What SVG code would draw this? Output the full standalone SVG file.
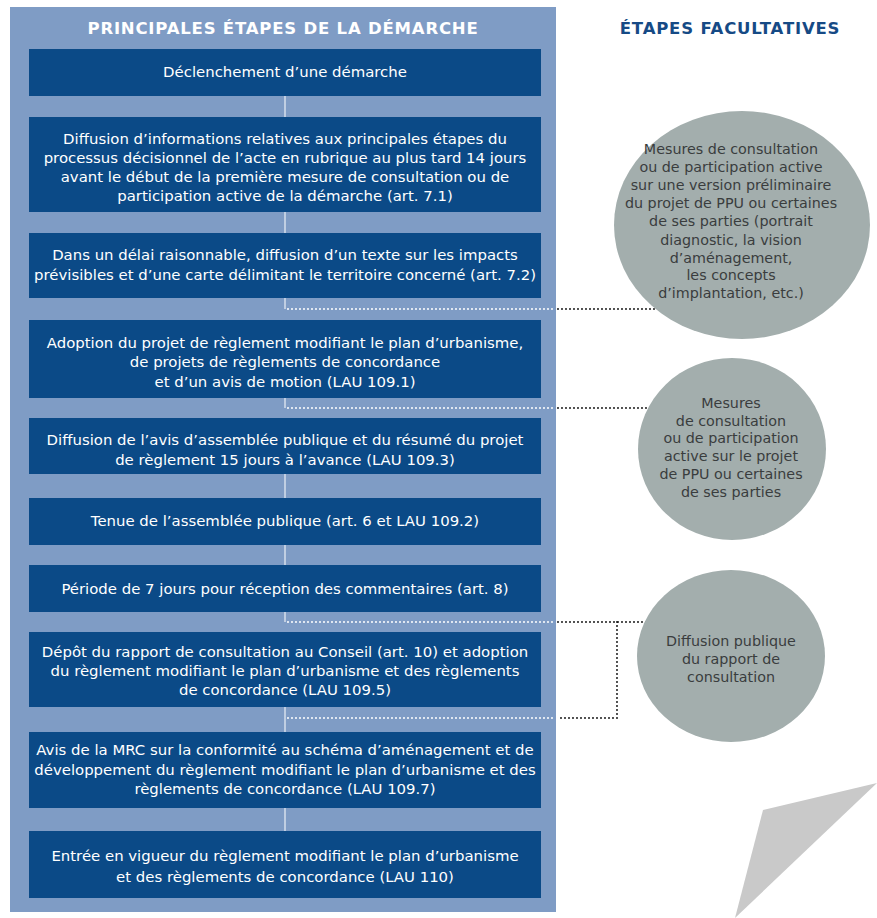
<svg xmlns="http://www.w3.org/2000/svg" width="877" height="918" viewBox="0 0 877 918">
<style>
.panel{fill:#7f9cc5}
.box{fill:#0b4a87}
.bt{font-family:"DejaVu Sans","Liberation Sans",Arial,sans-serif;font-size:14.9px;fill:#ffffff;text-anchor:middle}
.ct{font-family:"DejaVu Sans","Liberation Sans",Arial,sans-serif;font-size:14.3px;fill:#3a3d3e;text-anchor:middle}
.circ{fill:#a3aead}
.hd{font-family:"DejaVu Sans","Liberation Sans",Arial,sans-serif;font-size:16.5px;font-weight:bold;letter-spacing:0.8px;text-anchor:middle}
.vl{stroke:#ffffff;stroke-width:1.2;fill:none;opacity:0.85}
.dw{stroke:#ffffff;stroke-width:2;stroke-dasharray:0 4;stroke-linecap:round;fill:none}
.db{stroke:#1a1a1a;stroke-width:2;stroke-dasharray:0 4;stroke-linecap:round;fill:none}
</style>
<rect x="0" y="0" width="877" height="918" fill="#ffffff"/>
<rect class="panel" x="10" y="7" width="546" height="905"/>
<text class="hd" x="283" y="34" fill="#ffffff">PRINCIPALES ÉTAPES DE LA DÉMARCHE</text>
<text class="hd" x="730" y="34" fill="#164a85">ÉTAPES FACULTATIVES</text>

<g id="connectors">
<line class="vl" x1="285" y1="96" x2="285" y2="117"/>
<line class="vl" x1="285" y1="212" x2="285" y2="233"/>
<line class="vl" x1="285" y1="298" x2="285" y2="309"/>
<line class="vl" x1="285" y1="398" x2="285" y2="408"/>
<line class="vl" x1="285" y1="474" x2="285" y2="498"/>
<line class="vl" x1="285" y1="545" x2="285" y2="565"/>
<line class="vl" x1="285" y1="612" x2="285" y2="622"/>
<line class="vl" x1="285" y1="707" x2="285" y2="732"/>
<line class="vl" x1="285" y1="808" x2="285" y2="831"/>
<line class="dw" x1="288" y1="309" x2="554" y2="309"/>
<line class="db" x1="558" y1="309" x2="662" y2="309"/>
<line class="dw" x1="288" y1="408" x2="554" y2="408"/>
<line class="db" x1="558" y1="408" x2="660" y2="408"/>
<line class="dw" x1="288" y1="622" x2="554" y2="622"/>
<path class="db" d="M558 622 H650 M617 622 V718 H558"/>
<line class="dw" x1="288" y1="718" x2="554" y2="718"/>
</g>

<g id="step1"><rect class="box" x="29" y="49" width="512" height="47"/>
<text class="bt" x="285" y="77">Déclenchement d’une démarche</text></g>

<g id="step2"><rect class="box" x="29" y="117" width="512" height="95"/>
<text class="bt" x="285" y="144">Diffusion d’informations relatives aux principales étapes du</text>
<text class="bt" x="285" y="163">processus décisionnel de l’acte en rubrique au plus tard 14 jours</text>
<text class="bt" x="285" y="182">avant le début de la première mesure de consultation ou de</text>
<text class="bt" x="285" y="201">participation active de la démarche (art. 7.1)</text></g>

<g id="step3"><rect class="box" x="29" y="233" width="512" height="65"/>
<text class="bt" x="285" y="260">Dans un délai raisonnable, diffusion d’un texte sur les impacts</text>
<text class="bt" x="285" y="280">prévisibles et d’une carte délimitant le territoire concerné (art. 7.2)</text></g>

<g id="step4"><rect class="box" x="29" y="320" width="512" height="78"/>
<text class="bt" x="285" y="348">Adoption du projet de règlement modifiant le plan d’urbanisme,</text>
<text class="bt" x="285" y="367">de projets de règlements de concordance</text>
<text class="bt" x="285" y="387">et d’un avis de motion (LAU 109.1)</text></g>

<g id="step5"><rect class="box" x="29" y="418" width="512" height="56"/>
<text class="bt" x="285" y="445">Diffusion de l’avis d’assemblée publique et du résumé du projet</text>
<text class="bt" x="285" y="465">de règlement 15 jours à l’avance (LAU 109.3)</text></g>

<g id="step6"><rect class="box" x="29" y="498" width="512" height="47"/>
<text class="bt" x="285" y="526">Tenue de l’assemblée publique (art. 6 et LAU 109.2)</text></g>

<g id="step7"><rect class="box" x="29" y="565" width="512" height="47"/>
<text class="bt" x="285" y="594">Période de 7 jours pour réception des commentaires (art. 8)</text></g>

<g id="step8"><rect class="box" x="29" y="632" width="512" height="75"/>
<text class="bt" x="285" y="657">Dépôt du rapport de consultation au Conseil (art. 10) et adoption</text>
<text class="bt" x="285" y="676">du règlement modifiant le plan d’urbanisme et des règlements</text>
<text class="bt" x="285" y="695">de concordance (LAU 109.5)</text></g>

<g id="step9"><rect class="box" x="29" y="732" width="512" height="76"/>
<text class="bt" x="285" y="755">Avis de la MRC sur la conformité au schéma d’aménagement et de</text>
<text class="bt" x="285" y="775">développement du règlement modifiant le plan d’urbanisme et des</text>
<text class="bt" x="285" y="794">règlements de concordance (LAU 109.7)</text></g>

<g id="step10"><rect class="box" x="29" y="831" width="512" height="67"/>
<text class="bt" x="285" y="861">Entrée en vigueur du règlement modifiant le plan d’urbanisme</text>
<text class="bt" x="285" y="882">et des règlements de concordance (LAU 110)</text></g>

<g id="opt1"><ellipse class="circ" cx="742" cy="225" rx="128" ry="114"/>
<text class="ct" x="731" y="154">Mesures de consultation</text>
<text class="ct" x="731" y="172">ou de participation active</text>
<text class="ct" x="731" y="190">sur une version préliminaire</text>
<text class="ct" x="731" y="208">du projet de PPU ou certaines</text>
<text class="ct" x="731" y="226">de ses parties (portrait</text>
<text class="ct" x="731" y="245">diagnostic, la vision</text>
<text class="ct" x="731" y="263">d’aménagement,</text>
<text class="ct" x="731" y="280">les concepts</text>
<text class="ct" x="731" y="298">d’implantation, etc.)</text></g>

<g id="opt2"><ellipse class="circ" cx="732" cy="449" rx="94" ry="91"/>
<text class="ct" x="731" y="408">Mesures</text>
<text class="ct" x="731" y="426">de consultation</text>
<text class="ct" x="731" y="443">ou de participation</text>
<text class="ct" x="731" y="461">active sur le projet</text>
<text class="ct" x="731" y="479">de PPU ou certaines</text>
<text class="ct" x="731" y="497">de ses parties</text></g>

<g id="opt3"><ellipse class="circ" cx="731" cy="656" rx="94" ry="86"/>
<text class="ct" x="731" y="646">Diffusion publique</text>
<text class="ct" x="731" y="664">du rapport de</text>
<text class="ct" x="731" y="682">consultation</text></g>

<polygon points="877,783 763,810 735,918" fill="#c9c9c9"/>
</svg>
